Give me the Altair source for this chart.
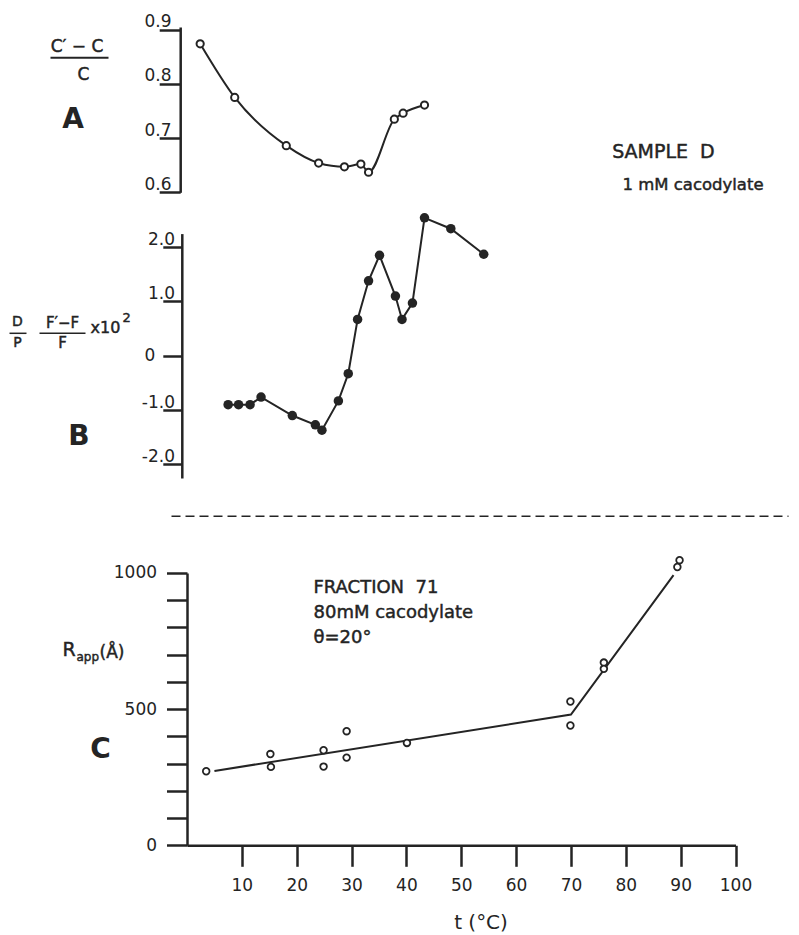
import altair as alt
import pandas as pd

# ---------------- data ----------------
# Panel A : (c'-c)/c  vs temperature
a_t = [2.4, 8.7, 18.1, 24.0, 28.7, 31.7, 33.1, 37.8, 39.4, 43.3]
a_val = [0.874, 0.775, 0.686, 0.654, 0.647, 0.652, 0.637, 0.735, 0.746, 0.761]

# Panel B : D/P (F'-F)/F x 10^2 vs temperature
b_t = [7.5, 9.4, 11.5, 13.5, 19.2, 23.4, 24.6, 27.6, 29.4, 31.1, 33.1, 35.1,
       38.0, 39.2, 41.1, 43.3, 48.1, 54.1]
b_val = [-0.90, -0.90, -0.90, -0.76, -1.10, -1.27, -1.37, -0.83, -0.33, 0.67,
         1.38, 1.85, 1.10, 0.67, 0.97, 2.54, 2.34, 1.87]

# Panel C : R_app (Angstrom) vs temperature
c_t = [3.5, 15.2, 15.3, 24.9, 24.9, 29.1, 29.1, 40.1, 69.9, 69.9, 76.0, 76.0, 89.8, 89.4]
c_R = [272, 335, 288, 349, 289, 419, 322, 376, 528, 440, 671, 648, 1047, 1022]
fit_t = [5, 70, 88.7]
fit_R = [273, 480, 992]

x_ticks = [10, 20, 30, 40, 50, 60, 70, 80, 90, 100]
a_ticks = [0.6, 0.7, 0.8, 0.9]
b_ticks = [-2, -1, 0, 1, 2]
c_ticks = [0, 100, 200, 300, 400, 500, 600, 700, 800, 900, 1000]

INK = "#242424"
FONT = "DejaVu Sans"

dfA = pd.DataFrame({"t": a_t, "v": a_val})
dfB = pd.DataFrame({"t": b_t, "v": b_val})
dfC = pd.DataFrame({"t": c_t, "v": c_R})
dfF = pd.DataFrame({"t": fit_t, "v": fit_R})

xscale = alt.Scale(domain=[0, 100], nice=False, zero=False)
xaxis = alt.Axis(values=x_ticks, tickSize=21, tickWidth=2.5, tickColor=INK,
                 domainWidth=2.5, domainColor=INK, grid=False,
                 labelFont=FONT, labelFontSize=17, labelColor=INK, labelPadding=11,
                 labelFlush=False, labelOverlap=False,
                 title="t (°C)", titleFont=FONT, titleFontSize=20, titleFontWeight="normal",
                 titleColor=INK, titleX=293.5, titleY=77, titleBaseline="middle",
                 titleAlign="center")
X = alt.X("t:Q", scale=xscale, axis=xaxis)

common_y = dict(orient="left", grid=False, tickWidth=2.5, tickColor=INK,
                domainWidth=2.5, domainColor=INK, labelFont=FONT, labelFontSize=17,
                labelColor=INK, labelAlign="right", labelOverlap=False, title=None)

yA = alt.Y("v:Q",
           scale=alt.Scale(domain=[0.6, 0.905], range=[165.3, 0], nice=False, zero=False),
           axis=alt.Axis(offset=6.8, values=a_ticks, tickSize=21, format=".1f",
                         labelBaseline="alphabetic", labelOffset=-3, labelPadding=-11.8,
                         **common_y))
yB = alt.Y("v:Q",
           scale=alt.Scale(domain=[-2.25, 2.25], range=[451, 206.6], nice=False, zero=False),
           axis=alt.Axis(offset=5.2, values=b_ticks, tickSize=19,
                         labelExpr="datum.value === 0 ? '0' : (datum.value < 0 ? '-' : '') + format(abs(datum.value), '.1f')",
                         labelBaseline={"condition": {"test": "datum.value === 0", "value": "middle"}, "value": "alphabetic"},
                         labelOffset={"condition": {"test": "datum.value === 0", "value": 0}, "value": -3},
                         labelPadding={"condition": {"test": "datum.value === 0", "value": 8}, "value": -11.7},
                         **common_y))
yC = alt.Y("v:Q",
           scale=alt.Scale(domain=[0, 1000], range=[818.3, 546], nice=False, zero=False),
           axis=alt.Axis(values=c_ticks, tickSize=20.5, labelPadding=10,
                         labelBaseline="middle",
                         labelExpr="datum.value % 500 === 0 ? '' + datum.value : ''",
                         **common_y))

open_pt = dict(shape="circle", fill="white", fillOpacity=1, stroke=INK, opacity=1)

panelA = alt.layer(
    alt.Chart(dfA).mark_line(color=INK, strokeWidth=2, interpolate="monotone").encode(x=X, y=yA),
    alt.Chart(dfA).mark_point(size=52, strokeWidth=2, **open_pt).encode(x=X, y=yA),
)
panelB = alt.layer(
    alt.Chart(dfB).mark_line(color=INK, strokeWidth=2).encode(x=X, y=yB),
    alt.Chart(dfB).mark_point(shape="circle", filled=True, size=90, color=INK, opacity=1).encode(x=X, y=yB),
)
panelC = alt.layer(
    alt.Chart(dfF).mark_line(color=INK, strokeWidth=2).encode(x=X, y=yC),
    alt.Chart(dfC).mark_point(size=44, strokeWidth=1.8, **open_pt).encode(x=X, y=yC),
)

ONE = alt.Data(values=[{"k": 0}])


def label(text, x, y, size=17, weight="normal", align="center", baseline="middle"):
    props = dict(text=text, font=FONT, fontSize=size, fontWeight=weight,
                 align=align, baseline=baseline, color=INK)
    if weight == "normal":
        props.update(stroke=INK, strokeWidth=0.45)
    return alt.Chart(ONE).mark_text(**props).encode(x=alt.value(x), y=alt.value(y))


def hline(x1, x2, y, w=2.0, dash=None):
    props = dict(color=INK, strokeWidth=w)
    if dash:
        props["strokeDash"] = dash
    return alt.Chart(ONE).mark_rule(**props).encode(x=alt.value(x1), x2=alt.value(x2), y=alt.value(y))


NB = "\u00a0"
annos = [
    # panel A label
    label("C′ − C", -110, 19.8, 17),
    hline(-136.5, -78.5, 30.8, 2.0),
    label("C", -103.5, 48.3, 17),
    label("A", -114, 93.3, 28, "bold"),
    label("SAMPLE" + NB + NB + "D", 425.2, 124.8, 19, align="left"),
    label("1 mM cacodylate", 435.5, 158.3, 16.5, align="left"),
    # panel B label
    label("D", -169.5, 295.3, 14),
    hline(-177.5, -160.5, 306.3, 1.5),
    label("P", -169.5, 316.3, 14),
    label("F′−F", -124.5, 296.3, 15),
    hline(-147.5, -101.5, 306.3, 1.5),
    label("F", -124.5, 316.3, 15),
    label("x10", -96.5, 301.3, 16, align="left"),
    label("2", -64.5, 291.3, 13, align="left"),
    label("B", -108, 410.3, 28, "bold"),
    # separator
    hline(-15.5, 601.5, 489.3, 1.6, [9, 5]),
    # panel C labels
    label("FRACTION" + NB + NB + "71", 126.5, 561.3, 18, align="left"),
    label("80mM cacodylate", 126.5, 586.3, 18, align="left"),
    label("θ=20°", 126.5, 611.3, 18, align="left"),
    label("R", -124.5, 623.3, 19, align="left"),
    label("app", -110.5, 630.3, 12, align="left"),
    label("(Å)", -87.5, 626.3, 17, align="left"),
    label("C", -86.5, 723.3, 28, "bold"),
]

anchor = alt.Chart(ONE).mark_point(size=1, opacity=0).encode(x=alt.value(-178.4), y=alt.value(-17.6))

chart = alt.layer(panelA, panelB, panelC, *annos, anchor).resolve_scale(
    y="independent"
).properties(width=548.5, height=818.3, padding=0, background="white").configure_view(stroke=None)

chart.save("out.html", embed_options={"renderer": "svg", "actions": False})
